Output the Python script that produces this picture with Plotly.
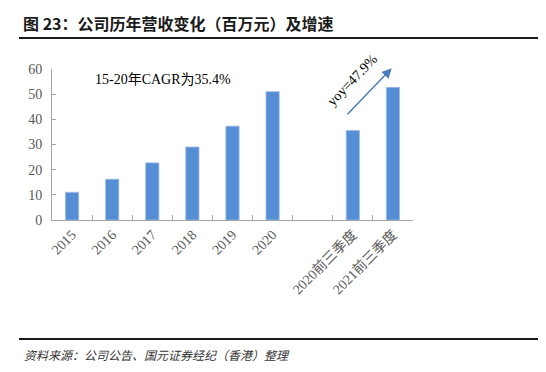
import plotly.graph_objects as go

categories = ["2015", "2016", "2017", "2018", "2019", "2020", " ", "2020前三季度", "2021前三季度"]
revenue = [11.0, 16.2, 22.7, 29.0, 37.3, 51.0, None, 35.6, 52.7]
y_ticks = [0, 10, 20, 30, 40, 50, 60]
title_text = "图 23：公司历年营收变化（百万元）及增速"
source_text = "资料来源：公司公告、国元证券经纪（香港）整理"
cagr_text = "15-20年CAGR为35.4%"
yoy_text = "yoy=47.9%"

# page offset (browser body margin)
OFF = 8
W, H = 546 - OFF, 372 - OFF
L, T = 52 - OFF, 69 - OFF
R = W - (413 - OFF)
B = H - (220 - OFF)
PW, PH = W - L - R, H - T - B

def px_x(px):
    return (px - OFF - L) / PW

def px_y(py):
    return (H - B - (py - OFF)) / PH

serif = "Times New Roman, Liberation Serif, Noto Sans CJK SC, serif"
cjk = "Noto Sans CJK SC, sans-serif"

fig = go.Figure()
fig.add_trace(go.Bar(
    x=categories, y=revenue,
    marker=dict(color="#558ed5", line=dict(color="#9dbbe6", width=0.8)),
    width=0.33,
))

fig.update_layout(
    width=W, height=H,
    margin=dict(l=L, r=R, t=T, b=B, autoexpand=False),
    paper_bgcolor="white", plot_bgcolor="white",
    showlegend=False,
    xaxis=dict(
        type="category", categoryorder="array", categoryarray=categories,
        range=[-0.5, 8.5], tickangle=-45,
        tickfont=dict(family=serif, size=14, color="#595959"),
        showline=True, linecolor="#a6a6a6", linewidth=1,
        ticks="inside", ticklen=5, tickcolor="#a6a6a6", tickson="boundaries",
        showgrid=False, zeroline=False, automargin=False,
    ),
    yaxis=dict(
        range=[0, 60], tickvals=y_ticks,
        tickfont=dict(family=serif, size=14, color="#595959"),
        showline=True, linecolor="#a6a6a6", linewidth=1,
        ticks="inside", ticklen=4, tickcolor="#a6a6a6",
        showgrid=False, zeroline=False, ticklabelstandoff=6, automargin=False,
    ),
)

# title and frame lines
fig.add_annotation(text="<b>" + title_text + "</b>", xref="paper", yref="paper",
                   x=px_x(21), y=px_y(23), xanchor="left", yanchor="middle",
                   showarrow=False, font=dict(family=cjk, size=16, color="#1a1a1a"))
fig.add_shape(type="line", xref="paper", yref="paper",
              x0=px_x(19), x1=px_x(546), y0=px_y(38), y1=px_y(38),
              line=dict(color="#1a1a1a", width=2))
fig.add_shape(type="line", xref="paper", yref="paper",
              x0=px_x(19), x1=px_x(546), y0=px_y(339), y1=px_y(339),
              line=dict(color="#1a1a1a", width=2))
fig.add_annotation(text="<i>" + source_text + "</i>", xref="paper", yref="paper",
                   x=px_x(22), y=px_y(354), xanchor="left", yanchor="middle",
                   showarrow=False, font=dict(family=cjk, size=12, color="#333333"))

# CAGR label
fig.add_annotation(text=cagr_text, xref="x", yref="y", x=2.27, y=56.0,
                   showarrow=False, font=dict(family=serif, size=14, color="black"))

# arrow
fig.add_annotation(x=7.97, y=60.3, ax=6.83, ay=41.4, xref="x", yref="y",
                   axref="x", ayref="y", text="", showarrow=True,
                   arrowhead=2, arrowsize=1.3, arrowwidth=1.5, arrowcolor="#4a7ebb")
fig.add_annotation(text=yoy_text, xref="x", yref="y", x=6.98, y=55.4,
                   textangle=-46, showarrow=False,
                   font=dict(family=serif, size=14, color="black"))

fig.write_html("out.html")
